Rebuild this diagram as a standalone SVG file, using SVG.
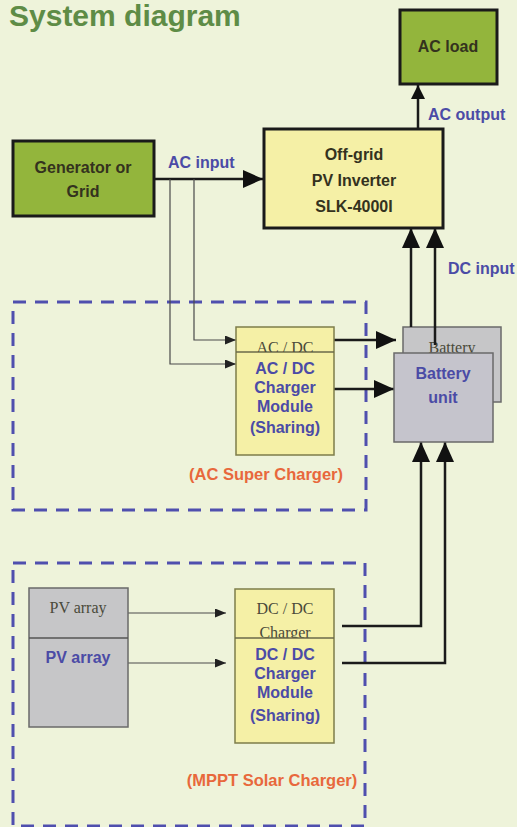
<svg xmlns="http://www.w3.org/2000/svg" width="517" height="827" viewBox="0 0 517 827">
<style>
.bg{fill:#eef3da}
.green{fill:#93b53c;stroke:#1a1a1a;stroke-width:3}
.yellowB{fill:#f5f0a6;stroke:#1a1a1a;stroke-width:3}
.yellow{fill:#f5f0a6;stroke:#7d7d4a;stroke-width:1.5}
.gray{fill:#c6c6c8;stroke:#6a6a6a;stroke-width:1.5}
.grayB{fill:#c5c4cc;stroke:#6a6a6a;stroke-width:1.5}
.lbl{font-family:"Liberation Sans",Arial,sans-serif;font-weight:bold;font-size:16px;fill:#34321e;text-anchor:middle}
.blue{font-family:"Liberation Sans",Arial,sans-serif;font-weight:bold;font-size:16px;fill:#4b4ba6}
.mid{text-anchor:middle}
.serif{font-family:"Liberation Serif","Times New Roman",serif;font-size:16px;fill:#4a4a3a;text-anchor:middle}
.orange{font-family:"Liberation Sans",Arial,sans-serif;font-weight:bold;font-size:16.5px;fill:#e8683c;text-anchor:middle}
.dash{fill:none;stroke:#4f4fae;stroke-width:3;stroke-dasharray:13 9}
.thick{fill:none;stroke:#1a1a1a;stroke-width:2.5}
.thin{fill:none;stroke:#4a4a4a;stroke-width:1.2}
</style>
<defs>
<marker id="big" markerUnits="userSpaceOnUse" markerWidth="20" markerHeight="18" refX="20" refY="9" orient="auto"><path d="M0,0 L20,9 L0,18 z" fill="#111"/></marker>
<marker id="med" markerUnits="userSpaceOnUse" markerWidth="14" markerHeight="14" refX="14" refY="7" orient="auto"><path d="M0,0 L14,7 L0,14 z" fill="#111"/></marker>
<marker id="small" markerUnits="userSpaceOnUse" markerWidth="11" markerHeight="9" refX="11" refY="4.5" orient="auto"><path d="M0,0 L11,4.5 L0,9 z" fill="#222"/></marker>
<clipPath id="dcTop"><rect x="235" y="589" width="99" height="49"/></clipPath>
<clipPath id="acTop"><rect x="236" y="327" width="98" height="25"/></clipPath>
</defs>
<rect class="bg" x="0" y="0" width="517" height="827"/>
<text x="9" y="26" style="font-family:'Liberation Sans',Arial,sans-serif;font-weight:bold;font-size:30px;fill:#5e8c46">System diagram</text>

<rect class="dash" x="13" y="302" width="353" height="208"/>
<rect class="dash" x="13" y="563" width="352" height="263"/>

<g id="battery-back">
<rect class="gray" x="403" y="327" width="98" height="75"/>
<text class="serif" x="452" y="353">Battery</text>
</g>

<g id="connectors">
<line class="thick" x1="418" y1="128" x2="418" y2="85" marker-end="url(#med)"/>
<line class="thick" x1="154" y1="179" x2="263" y2="179" marker-end="url(#big)"/>
<polyline class="thin" points="194,179 194,340 236,340" marker-end="url(#small)"/>
<polyline class="thin" points="170,179 170,364 236,364" marker-end="url(#small)"/>
<line class="thick" x1="334" y1="340" x2="396" y2="340" marker-end="url(#big)"/>
<line class="thick" x1="334" y1="389" x2="394" y2="389" marker-end="url(#big)"/>
<line class="thick" x1="411" y1="327" x2="411" y2="228" marker-end="url(#big)"/>
<line class="thick" x1="435" y1="345" x2="435" y2="228" marker-end="url(#big)"/>
<polyline class="thick" points="342,626 421,626 421,442" marker-end="url(#big)"/>
<polyline class="thick" points="342,663 445,663 445,442" marker-end="url(#big)"/>
<line class="thin" x1="128" y1="613" x2="226" y2="613" marker-end="url(#small)"/>
<line class="thin" x1="128" y1="663" x2="226" y2="663" marker-end="url(#small)"/>
</g>

<g id="ac-load">
<rect class="green" x="400" y="10" width="97" height="74"/>
<text class="lbl" x="448" y="52">AC load</text>
</g>
<text class="blue" x="428" y="120">AC output</text>

<g id="generator">
<rect class="green" x="13" y="141" width="141" height="75"/>
<text class="lbl" x="83" y="173">Generator or</text>
<text class="lbl" x="83" y="197">Grid</text>
</g>
<text class="blue" x="168" y="168">AC input</text>

<g id="inverter">
<rect class="yellowB" x="264" y="129" width="179" height="99"/>
<text class="lbl" x="354" y="160">Off-grid</text>
<text class="lbl" x="354" y="186">PV Inverter</text>
<text class="lbl" x="354" y="212">SLK-4000I</text>
</g>
<text class="blue" x="448" y="274">DC input</text>

<g id="ac-dc-charger">
<rect class="yellow" x="236" y="327" width="98" height="128"/>
<line x1="236" y1="352" x2="334" y2="352" stroke="#6a6a4a" stroke-width="1.5"/>
<text class="serif" x="285" y="353" clip-path="url(#acTop)">AC / DC</text>
<text class="blue mid" x="285" y="374">AC / DC</text>
<text class="blue mid" x="285" y="393">Charger</text>
<text class="blue mid" x="285" y="412">Module</text>
<text class="blue mid" x="285" y="433">(Sharing)</text>
</g>

<g id="battery-unit">
<rect class="grayB" x="394" y="353" width="99" height="89"/>
<text class="blue mid" x="443" y="379">Battery</text>
<text class="blue mid" x="443" y="403">unit</text>
</g>

<text class="orange" x="266" y="480">(AC Super Charger)</text>

<g id="pv-array">
<rect class="gray" x="29" y="588" width="99" height="139"/>
<line x1="29" y1="638" x2="128" y2="638" stroke="#555" stroke-width="1.5"/>
<text class="serif" x="78" y="613">PV array</text>
<text class="blue mid" x="78" y="663">PV array</text>
</g>

<g id="dc-dc-charger">
<rect class="yellow" x="235" y="589" width="99" height="154"/>
<text class="serif" x="285" y="614">DC / DC</text>
<text class="serif" x="285" y="638" clip-path="url(#dcTop)">Charger</text>
<line x1="235" y1="638" x2="334" y2="638" stroke="#6a6a4a" stroke-width="1.5"/>
<text class="blue mid" x="285" y="660">DC / DC</text>
<text class="blue mid" x="285" y="679">Charger</text>
<text class="blue mid" x="285" y="698">Module</text>
<text class="blue mid" x="285" y="721">(Sharing)</text>
</g>

<text class="orange" x="272" y="786">(MPPT Solar Charger)</text>
</svg>
